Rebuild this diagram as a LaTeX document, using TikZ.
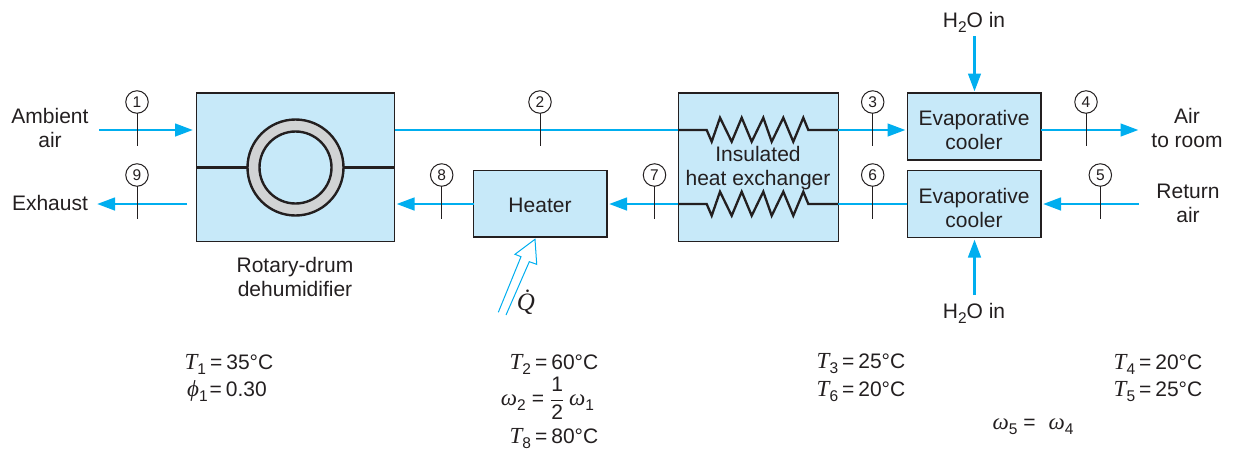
\documentclass[tikz,border=0pt]{standalone}
\usepackage{fontspec}
\setmainfont{Liberation Sans}
\newfontfamily\serifit[ItalicFont=Liberation Serif Italic]{Liberation Serif}
\usetikzlibrary{arrows.meta}
\definecolor{flow}{HTML}{00AEEF}
\definecolor{boxfill}{HTML}{C7E9F9}
\definecolor{ink}{HTML}{231F20}
\definecolor{ring}{HTML}{D1D3D4}
\newcommand{\vi}[1]{{\fontsize{23}{24}\serifit\itshape #1}}
\newcommand{\sbs}[1]{\raisebox{-5pt}{\fontsize{15.5}{15.5}\selectfont #1}}
\newcommand{\eqt}[3]{\vi{#1}\sbs{#2}\hspace{4pt}=\hspace{4pt}#3\textdegree C}
\tikzset{
  x=1pt,y=-1pt,
  every node/.style={font=\fontsize{21}{24}\selectfont,text=ink,inner sep=0pt,outer sep=0pt,align=center},
  unit/.style={draw=ink,fill=boxfill,line width=1.2pt,anchor=north west},
  flowline/.style={draw=flow,line width=2.9pt},
  flowarrow/.style={flowline,-{Triangle[length=18pt,width=12.5pt]}},
  tick/.style={draw=ink,line width=1pt},
  state/.style={draw=ink,circle,fill=white,line width=1pt,minimum size=22.5pt,font=\fontsize{15.5}{15.5}\selectfont},
  coilline/.style={draw=ink,line width=2.3pt,line join=miter},
  heatline/.style={draw=flow,line width=1pt},
}
\begin{document}
\begin{tikzpicture}
\useasboundingbox (0,0) rectangle (1234,448);
% units
\node[unit,minimum width=198pt,minimum height=148.7pt] (dehum) at (196.5,93) {};
\node[unit,minimum width=133.5pt,minimum height=66.5pt] (heater) at (473.5,170.5) {};
\node[unit,minimum width=160pt,minimum height=148.7pt] (hx) at (678.2,93) {};
\node[unit,minimum width=133.7pt,minimum height=67pt] (evapa) at (907.3,93) {};
\node[unit,minimum width=133.7pt,minimum height=67pt] (evapb) at (907.3,170.3) {};
% drum
\node[draw=ink,fill=ring,circle,line width=2.4pt,minimum size=96pt] (drumo) at (295.5,167.5) {};
\node[draw=ink,fill=boxfill,circle,line width=2.4pt,minimum size=72pt] (drumi) at (295.5,167.5) {};
\draw[draw=ink,line width=2.1pt] (dehum.west |- drumo.center) -- (drumo.west);
\draw[draw=ink,line width=2.1pt] (drumo.east) -- (dehum.east |- drumo.center);
% texts
\node (heatertext) at (540,205.5) {Heater};
\node (evapatext) at (974,129.5) {Evaporative\\cooler};
\node (evapbtext) at (974,207.5) {Evaporative\\cooler};
\node (ambient) at (50,128) {Ambient\\air};
\node (exhaust) at (50,203) {Exhaust};
\node (rotary) at (295,277) {Rotary-drum\\dehumidifier};
\node (hxlabel) at (758,168) {Insulated\\heat exchanger};
\node (airout) at (1187,128) {Air\\to room};
\node (airret) at (1188,203) {Return\\air};
\node (wtop) at (974,22) {H\sbs{2}O in};
\node (wbot) at (974,313) {H\sbs{2}O in};
% free ends
\coordinate (s1) at (99,130);   \coordinate (e1) at (193,130);
\coordinate (s9) at (187,204);  \coordinate (e9) at (97,204);
\coordinate (e8) at (396.5,204);
\coordinate (e7) at (609,204);
\coordinate (e3) at (905.5,130);
\coordinate (e4) at (1138.5,130);
\coordinate (s5) at (1139,204); \coordinate (e5) at (1043,204);
\coordinate (stop) at (974.5,36); \coordinate (etop) at (974.5,91.5);
\coordinate (sbot) at (974.5,295); \coordinate (ebot) at (974.5,239.5);
% flows
\draw[flowarrow] (s1) -- (e1);
\draw[flowarrow] (s9) -- (e9);
\draw[flowline] (dehum.east |- s1) -- (hx.west |- s1);
\draw[flowarrow] (heater.west |- e8) -- (e8);
\draw[flowarrow] (hx.west |- e7) -- (e7);
\draw[flowarrow] (hx.east |- e3) -- (e3);
\draw[flowarrow] (evapa.east |- e4) -- (e4);
\draw[flowarrow] (s5) -- (e5);
\draw[flowline] (evapb.west |- e5) -- (hx.east |- e5);
\draw[flowarrow] (stop) -- (etop);
\draw[flowarrow] (sbot) -- (ebot);
% coils
\foreach \yy in {130,204}{
  \draw[coilline] (678.2,\yy) -- (706.7,\yy) -- (711.7,{\yy+11.7}) -- (720,{\yy-12.3}) -- (731.7,{\yy+11.7}) -- (741.7,{\yy-12.3}) -- (751.7,{\yy+11.7}) -- (763.3,{\yy-12.3}) -- (771.7,{\yy+11.7}) -- (783.3,{\yy-12.3}) -- (793.3,{\yy+11.7}) -- (803.3,{\yy-12.3}) -- (808.3,\yy) -- (838.2,\yy);
}
% state markers
\foreach \n/\x/\y in {1/137/102,2/540/102,3/872.7/102,4/1086/102,5/1100.3/175,6/872.7/175,7/654.5/175,8/441.7/175,9/137/175}{
  \node[state] (c\n) at (\x,\y) {\n};
  \coordinate (t\n) at (\x,\y+44);
  \draw[tick] (c\n) -- (t\n);
}
% heat input
\coordinate (qa) at (498.3,312.3);
\coordinate (qb) at (506,315);
\draw[heatline,line join=miter] (qa) -- (521,256.7) -- (515,254.3) -- (535,239.3) -- (536.7,264.3) -- (529.3,261.7) -- (qb);
\node (qdot) at (526,302) {\fontsize{25}{25}\serifit\itshape\.{Q}};
% data
\node (d1) at (229,364) {\eqt{T}{1}{35}};
\node (d2) at (227,391) {\vi{ϕ}\sbs{1}\hspace{2pt}=\hspace{4pt}0.30};
\node (d3) at (554,364) {\eqt{T}{2}{60}};
\node (d4) at (547.5,398) {\vi{ω}\sbs{2}\hspace{6pt}=\hspace{6pt}$\displaystyle\frac{\mbox{1}}{\mbox{2}}$\hspace{5pt}\vi{ω}\sbs{1}};
\node (d5) at (554,439) {\eqt{T}{8}{80}};
\node (d6) at (861,364) {\eqt{T}{3}{25}};
\node (d7) at (861,392) {\eqt{T}{6}{20}};
\node (d8) at (1158,364) {\eqt{T}{4}{20}};
\node (d9) at (1158,392) {\eqt{T}{5}{25}};
\node (d10) at (1033,427) {\vi{ω}\sbs{5}\hspace{6pt}=\hspace{13pt}\vi{ω}\sbs{4}};
\end{tikzpicture}
\end{document}
